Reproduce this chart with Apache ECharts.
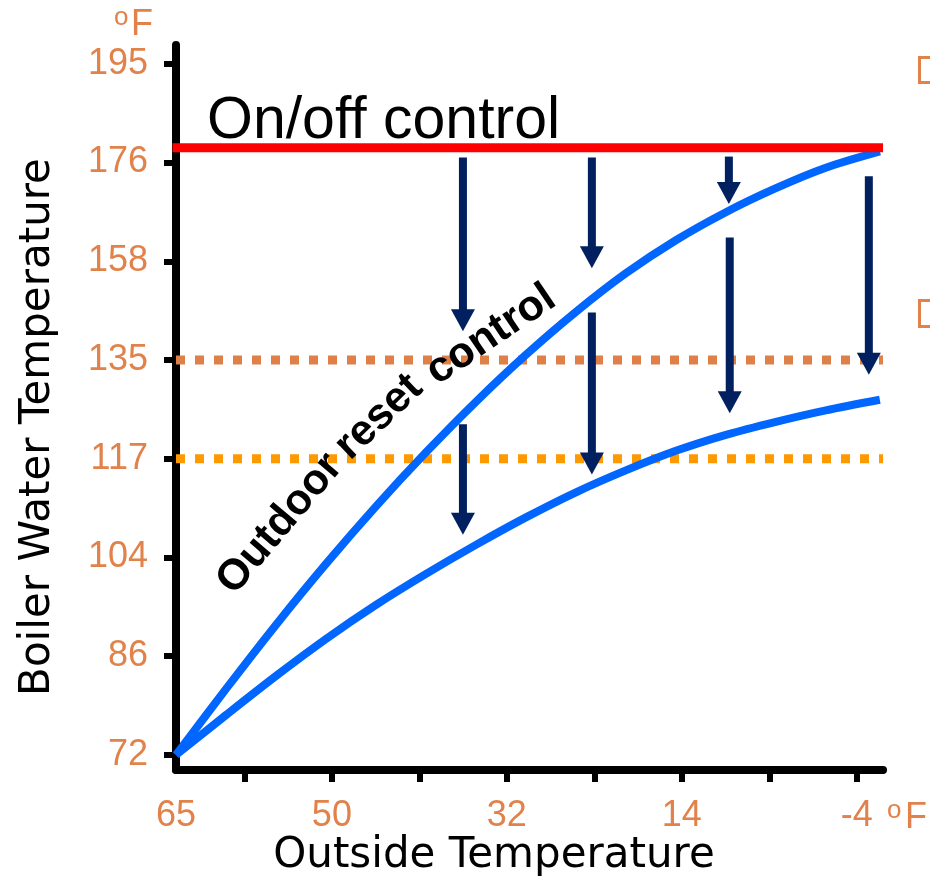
<!DOCTYPE html>
<html>
<head>
<meta charset="utf-8">
<script src="https://cdn.jsdelivr.net/npm/echarts@6/dist/echarts.min.js"></script>
<style>
  html, body { margin: 0; padding: 0; background: #fff; }
  #chart { width: 930px; height: 884px; }
</style>
</head>
<body>
<div id="chart"></div>
<script>
// y axis is ordinal: one step per tick label (°F)
const Y_TICKS = ['72', '86', '104', '117', '135', '158', '176', '195'];
// x axis runs in °C (10 °C per label), labelled in °F
const X_LABEL_POS = [18.91, 10, 0, -10, -20];
const X_LABELS = ['65', '50', '32', '14', '-4'];
const X_TICK_POS = [15, 10, 5, 0, -5, -10, -15, -20];

// outdoor reset curves (x in °C, y in tick steps)
const curveX = [18.91, 16.05, 13.2, 10.34, 7.48, 4.62, 1.77, -1.09, -3.95, -6.8, -9.66, -12.52, -15.38, -18.23, -21.32];
const upperY = [0, 0.669, 1.317, 1.935, 2.518, 3.065, 3.577, 4.053, 4.488, 4.878, 5.213, 5.497, 5.74, 5.947, 6.112];
const lowerY = [0, 0.405, 0.8, 1.175, 1.52, 1.834, 2.128, 2.406, 2.66, 2.882, 3.08, 3.242, 3.374, 3.49, 3.597];

// on/off level and the two dotted reference levels (tick steps)
const onOffLevel = 6.15;
const refLevels = [4, 3];   // 135 °F, 117 °F

// arrows: x position, start level, tip level
const arrowX = [2.51, -4.86, -12.69, -20.69, 2.51, -4.86, -12.74];
const arrowFrom = [6.05, 6.05, 6.06, 5.86, 3.35, 4.48, 5.24];
const arrowTo = [4.29, 4.93, 5.58, 3.85, 2.23, 2.84, 3.46];

// curved label along the upper curve, one piece per word
const curveWords = ['Outdoor', 'reset', 'control'];
const curveWordPos = [[280, 524], [379, 417], [491, 335]];
const curveWordAngle = [49.7, 43.7, 34];

const X_MIN = -21.5, X_MAX = 18.91;
const ORANGE = '#E0824A';
const LABEL_FONT = '"Liberation Sans", Arial, sans-serif';
const TITLE_FONT = '"DejaVu Sans", sans-serif';

const zip = (xs, ys) => xs.map((x, i) => [x, ys[i]]);

const chart = echarts.init(document.getElementById('chart'));

chart.setOption({
    animation: false,
    grid: { left: 176, right: 47, top: 45, bottom: 114 },
    xAxis: {
        type: 'value',
        inverse: true,
        min: X_MIN,
        max: X_MAX,
        splitLine: { show: false },
        axisLine: { show: true, onZero: false, lineStyle: { color: '#000', width: 8 } },
        axisTick: { show: true, length: 12, lineStyle: { color: '#000', width: 6 }, customValues: X_TICK_POS },
        axisLabel: {
            customValues: X_LABEL_POS,
            formatter: v => X_LABELS[X_LABEL_POS.indexOf(v)] ?? '',
            color: ORANGE, fontSize: 36, fontFamily: LABEL_FONT, margin: 28,
            showMinLabel: true, showMaxLabel: true
        }
    },
    yAxis: {
        type: 'value',
        min: -0.152,
        max: 7.19,
        splitLine: { show: false },
        axisLine: { show: true, onZero: false, lineStyle: { color: '#000', width: 8 } },
        axisTick: { show: true, length: 12, lineStyle: { color: '#000', width: 6 }, customValues: Y_TICKS.map((t, i) => i) },
        axisLabel: {
            customValues: Y_TICKS.map((t, i) => i),
            formatter: v => Y_TICKS[v] ?? '',
            color: ORANGE, fontSize: 36, fontFamily: LABEL_FONT, margin: 28
        }
    },
    series: [
        {
            type: 'line', z: 1, symbol: 'none', silent: true,
            data: [[X_MAX, refLevels[0]], [X_MIN, refLevels[0]]],
            lineStyle: { color: '#DF8048', width: 9, type: [9, 10], cap: 'butt' }
        },
        {
            type: 'line', z: 1, symbol: 'none', silent: true,
            data: [[X_MAX, refLevels[1]], [X_MIN, refLevels[1]]],
            lineStyle: { color: '#FF9900', width: 9, type: [9, 10], cap: 'butt' }
        },
        {
            type: 'line', z: 2, symbol: 'none', smooth: 0.3,
            data: zip(curveX, upperY),
            lineStyle: { color: '#0066FF', width: 8 }
        },
        {
            type: 'line', z: 2, symbol: 'none', smooth: 0.3,
            data: zip(curveX, lowerY),
            lineStyle: { color: '#0066FF', width: 8 }
        },
        {
            type: 'line', z: 3, symbol: 'none',
            data: [[X_MAX + 0.2, onOffLevel], [X_MIN, onOffLevel]],
            lineStyle: { color: '#FF0000', width: 9, cap: 'butt' }
        },
        {
            type: 'custom', z: 4,
            encode: { x: 0, y: [1, 2] },
            data: arrowX.map((x, i) => [x, arrowFrom[i], arrowTo[i]]),
            renderItem: (params, api) => {
                const p0 = api.coord([api.value(0), api.value(1)]);
                const p1 = api.coord([api.value(0), api.value(2)]);
                const headLen = 22, headHalf = 12, shaftHalf = 4;
                return {
                    type: 'group',
                    children: [
                        {
                            type: 'rect',
                            shape: { x: p0[0] - shaftHalf, y: p0[1], width: shaftHalf * 2, height: p1[1] - headLen - p0[1] + 1 },
                            style: { fill: '#002060' }
                        },
                        {
                            type: 'polygon',
                            shape: { points: [[p1[0] - headHalf, p1[1] - headLen], [p1[0] + headHalf, p1[1] - headLen], [p1[0], p1[1]]] },
                            style: { fill: '#002060' }
                        }
                    ]
                };
            }
        }
    ],
    graphic: [
        {
            type: 'text', left: 207, top: 92, z: 10,
            style: { text: 'On/off control', fontSize: 59, fontFamily: LABEL_FONT, fill: '#000' }
        },
        ...curveWords.map((w, i) => ({
            type: 'text', x: curveWordPos[i][0], y: curveWordPos[i][1],
            rotation: curveWordAngle[i] * Math.PI / 180, z: 10,
            style: {
                text: w, fontSize: 43, fontWeight: 'bold', fontFamily: LABEL_FONT,
                fill: '#000', align: 'center', verticalAlign: 'middle'
            }
        })),
        {
            type: 'text', x: 494, y: 856, z: 10,
            style: { text: 'Outside Temperature', fontSize: 42, fontFamily: TITLE_FONT, fill: '#000', align: 'center', verticalAlign: 'middle' }
        },
        {
            type: 'text', x: 38, y: 427, rotation: Math.PI / 2, z: 10,
            style: { text: 'Boiler Water Temperature', fontSize: 42, fontFamily: TITLE_FONT, fill: '#000', align: 'center', verticalAlign: 'middle' }
        },
        // unit marks
        {
            type: 'text', x: 114, y: 18, z: 10,
            style: { text: 'o', fontSize: 26, fontFamily: LABEL_FONT, fill: ORANGE, verticalAlign: 'middle' }
        },
        {
            type: 'text', x: 131, y: 25, z: 10,
            style: { text: 'F', fontSize: 36, fontFamily: LABEL_FONT, fill: ORANGE, verticalAlign: 'middle' }
        },
        {
            type: 'text', x: 887, y: 811, z: 10,
            style: { text: 'o', fontSize: 26, fontFamily: LABEL_FONT, fill: ORANGE, verticalAlign: 'middle' }
        },
        {
            type: 'text', x: 905, y: 818, z: 10,
            style: { text: 'F', fontSize: 36, fontFamily: LABEL_FONT, fill: ORANGE, verticalAlign: 'middle' }
        },
        // clipped marks at the right edge
        {
            type: 'rect', z: 10,
            shape: { x: 919.5, y: 57.5, width: 30, height: 25 },
            style: { fill: 'none', stroke: ORANGE, lineWidth: 3 }
        },
        {
            type: 'rect', z: 10,
            shape: { x: 919.5, y: 300.5, width: 30, height: 26 },
            style: { fill: 'none', stroke: ORANGE, lineWidth: 3 }
        }
    ]
});

window.addEventListener('resize', () => chart.resize());
</script>
</body>
</html>
